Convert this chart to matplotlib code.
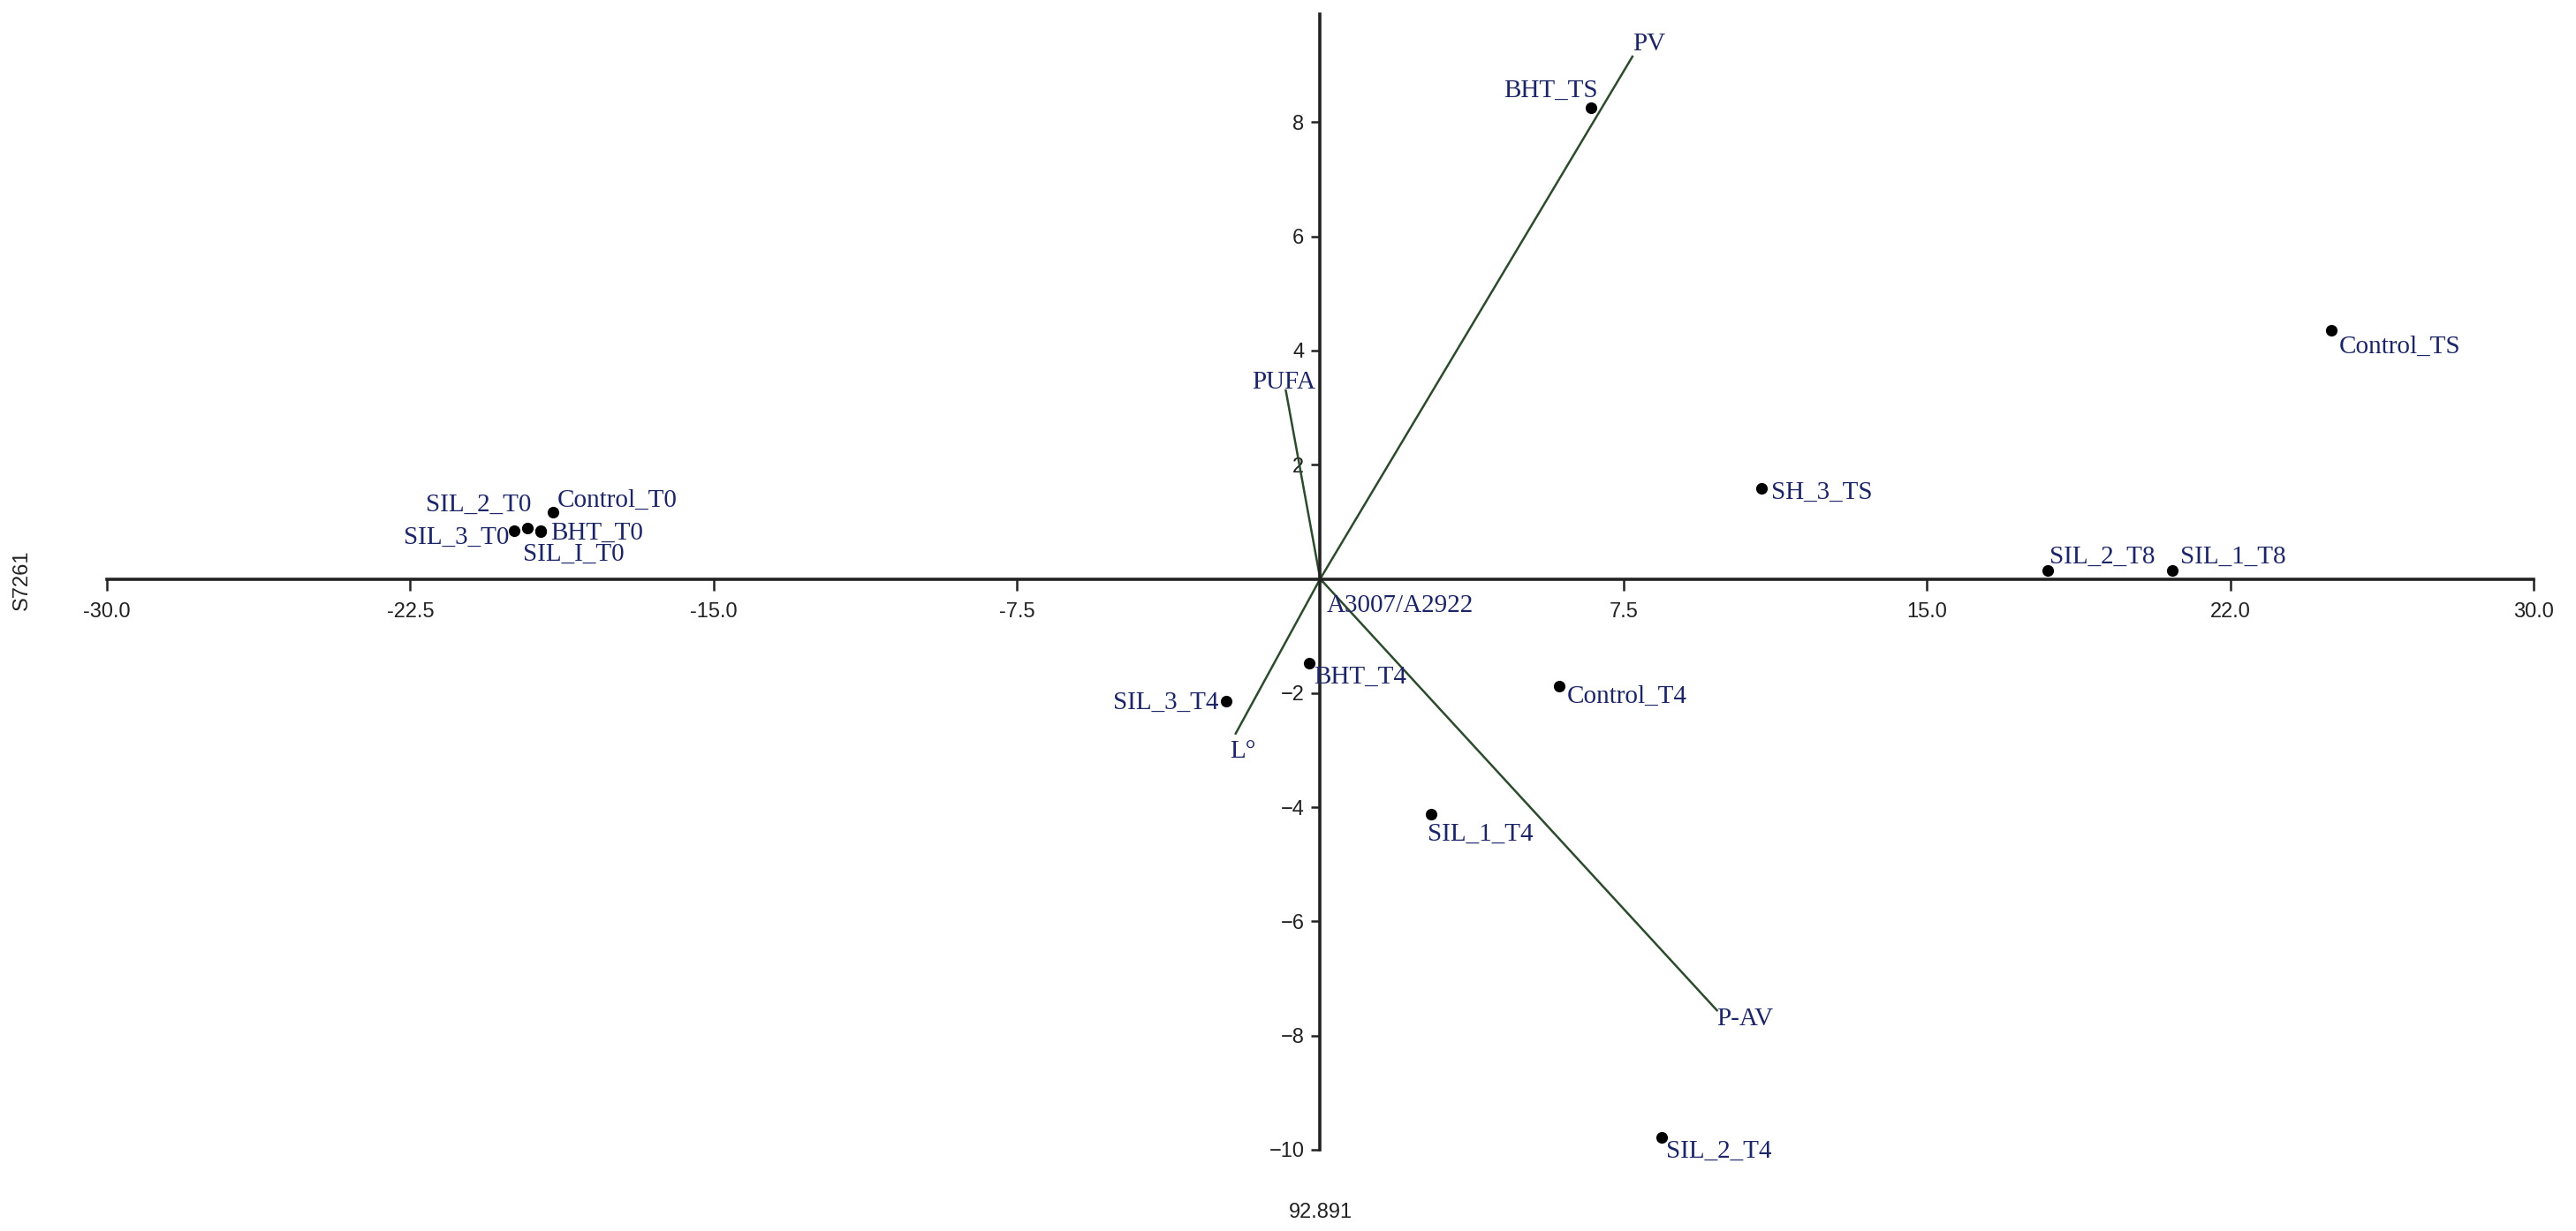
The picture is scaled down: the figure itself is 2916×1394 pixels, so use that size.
import matplotlib
matplotlib.use('Agg')
import matplotlib.pyplot as plt
import matplotlib.transforms as mtransforms

# scores (samples)
samples = ['BHT_TS', 'Control_TS', 'SH_3_TS', 'SIL_2_T8', 'SIL_1_T8',
           'Control_T0', 'SIL_2_T0', 'SIL_3_T0', 'BHT_T0', 'SIL_I_T0',
           'BHT_T4', 'Control_T4', 'SIL_3_T4', 'SIL_1_T4', 'SIL_2_T4']
pc1 = [6.69, 25.0, 10.91, 17.99, 21.07,
       -18.97, -19.6, -19.92, -19.27, -19.27,
       -0.27, 5.92, -2.32, 2.75, 8.45]
pc2 = [8.25, 4.35, 1.58, 0.15, 0.15,
       1.17, 0.89, 0.85, 0.85, 0.83,
       -1.48, -1.88, -2.14, -4.12, -9.78]

# loadings (variables)
variables = ['PV', 'PUFA', 'L°', 'P-AV', 'A3007/A2922']
load1 = [7.72, -0.85, -2.09, 9.81, 0.05]
load2 = [9.15, 3.30, -2.71, -7.56, -0.05]

x_ticks = [-30, -22.5, -15, -7.5, 7.5, 15, 22.5, 30]
x_ticklabels = ['-30.0', '-22.5', '-15.0', '-7.5', '7.5', '15.0', '22.0', '30.0']
y_ticks = [8, 6, 4, 2, -2, -4, -6, -8, -10]

label_color = '#1c2566'
line_color = '#2c4a2c'

# label placement: (dx, dy) in points, ha
sample_pos = {
    'BHT_TS': (5.8, 8.6, 'right'),
    'Control_TS': (6.5, -18.7, 'left'),
    'SH_3_TS': (8, -8.6, 'left'),
    'SIL_2_T8': (1.4, 5.8, 'left'),
    'SIL_1_T8': (6.5, 5.8, 'left'),
    'Control_T0': (3.6, 4.3, 'left'),
    'SIL_2_T0': (2.9, 13.7, 'right'),
    'SIL_3_T0': (-4.3, -10.8, 'right'),
    'BHT_T0': (7.9, -7.2, 'left'),
    'SIL_I_T0': (-14.4, -23.8, 'left'),
    'BHT_T4': (3.6, -16.6, 'left'),
    'Control_T4': (5.8, -13.7, 'left'),
    'SIL_3_T4': (-6.5, -6.5, 'right'),
    'SIL_1_T4': (-2.9, -21.6, 'left'),
    'SIL_2_T4': (3.6, -16.6, 'left'),
}
var_pos = {
    'PV': (0, 5, 'left'),
    'PUFA': (-1.5, 1.5, 'center'),
    'L°': (-5, -20, 'left'),
    'P-AV': (0, -12, 'left'),
    'A3007/A2922': (3.6, -25, 'left'),
}

plt.rcParams['font.family'] = ['Liberation Sans', 'DejaVu Sans']

fig = plt.figure(figsize=(29.16, 13.94), dpi=100)
ax = fig.add_axes([0.0415, 0.0661, 0.942, 0.9227])

# loadings as lines from origin
for name, lx, ly in zip(variables, load1, load2):
    ax.plot([0, lx], [0, ly], color=line_color, lw=1.8, zorder=2)
    dx, dy, ha = var_pos[name]
    ax.annotate(name, (lx, ly), xytext=(dx, dy), textcoords='offset points',
                ha=ha, va='baseline', fontsize=21, color=label_color,
                family='Liberation Serif', zorder=4)

ax.scatter(pc1, pc2, s=90, color='black', zorder=3, linewidths=0)
for name, sx, sy in zip(samples, pc1, pc2):
    dx, dy, ha = sample_pos[name]
    ax.annotate(name, (sx, sy), xytext=(dx, dy), textcoords='offset points',
                ha=ha, va='baseline', fontsize=21, color=label_color,
                family='Liberation Serif', zorder=4)

ax.set_xlim(-30, 30)
ax.set_ylim(-10, 9.9)

for side in ['top', 'right']:
    ax.spines[side].set_visible(False)
ax.spines['left'].set_position(('data', 0))
ax.spines['bottom'].set_position(('data', 0))
for side in ['left', 'bottom']:
    ax.spines[side].set_linewidth(2.6)
    ax.spines[side].set_color('#222222')

ax.set_xticks(x_ticks)
ax.set_xticklabels(x_ticklabels)
ax.set_yticks(y_ticks)
ax.tick_params(axis='x', direction='out', length=9, width=1.8, pad=10,
               labelsize=17, colors='#222222')
ax.tick_params(axis='y', direction='out', length=7, width=1.8, pad=6,
               labelsize=17, colors='#222222')

ax.text(0.5, -0.055, '92.891', transform=ax.transAxes, ha='center', va='center',
        fontsize=17, color='#222222')
fig.text(0.0086, 0.529, 'S7261', rotation=90, ha='center', va='center',
         fontsize=17, color='#222222')

fig.savefig('out.png', dpi=100, facecolor='white')
